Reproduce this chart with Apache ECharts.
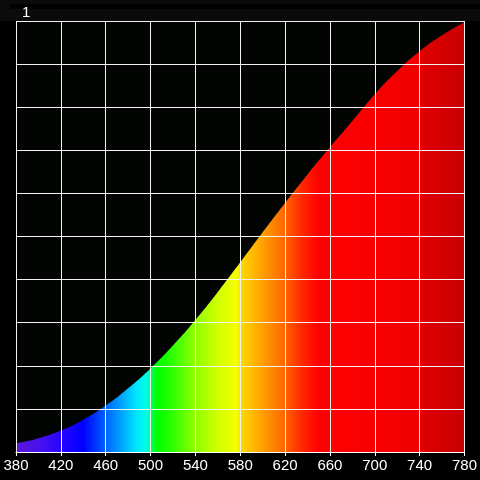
<!DOCTYPE html>
<html>
<head>
<meta charset="utf-8">
<script src="https://cdn.jsdelivr.net/npm/echarts@6/dist/echarts.min.js"></script>
<style>
html,body{margin:0;padding:0;background:#000;}
#chart{width:480px;height:480px;}
</style>
</head>
<body>
<div id="chart"></div>
<script>
// Data
var wavelengths = [380,400,420,440,460,480,500,520,540,560,580,600,620,640,660,680,700,720,740,760,780];
var intensity = [0.020,0.032,0.050,0.075,0.108,0.148,0.194,0.247,0.306,0.371,0.440,0.510,0.578,0.644,0.707,0.768,0.830,0.884,0.930,0.967,0.997];
var xTicks = [380,420,460,500,540,580,620,660,700,740,780];
var yTopLabel = '1';

// Spectrum gradient (style)
var spectrumStops = [
  [380,'#5a16dc'],[400,'#4a12ec'],[420,'#2804ff'],[440,'#0000ff'],
  [450,'#0030ff'],[460,'#0064ff'],[475,'#00a8ff'],[488,'#00e8ff'],
  [497,'#00ffe0'],[501,'#00ff50'],[506,'#00ff00'],[520,'#30ff00'],
  [540,'#90ff00'],[560,'#d0ff00'],[577,'#f4ff00'],[581,'#ffd800'],
  [600,'#ffa000'],[620,'#ff6400'],[635,'#ff2800'],[650,'#ff0000'],
  [700,'#f80000'],[738,'#f00000'],[742,'#e00000'],[780,'#c80000']
];
var minX = 380, maxX = 780;
var gradStops = spectrumStops.map(function(s){return {offset:(s[0]-minX)/(maxX-minX), color:s[1]};});

var chart = echarts.init(document.getElementById('chart'), null, {renderer:'canvas'});
var seriesData = wavelengths.map(function(w,i){return [w,intensity[i]];});

chart.setOption({
  backgroundColor:'#000000',
  animation:false,
  grid:{left:16,right:15,top:21,bottom:28,show:true,backgroundColor:'#020402',borderWidth:0},
  graphic:[
    {type:'rect',left:0,top:0,shape:{width:480,height:21},style:{fill:'#0b0b0b'},z:-10},
    {type:'rect',left:10,top:4,shape:{width:470,height:5},style:{fill:'#020202'},z:-9},
    {type:'text',left:22,top:5,style:{text:yTopLabel,fill:'#ffffff',font:'15px "Liberation Sans Narrow","Liberation Sans",sans-serif'},z:5}
  ],
  xAxis:{
    type:'value',min:minX,max:maxX,interval:40,z:10,
    axisLine:{show:true,lineStyle:{color:'#ffffff',width:1}},
    axisTick:{show:true,length:4,lineStyle:{color:'#ffffff'}},
    axisLabel:{color:'#ffffff',fontSize:15,margin:6,fontFamily:'"Liberation Sans Narrow","Liberation Sans",sans-serif',
      customValues:xTicks},
    splitLine:{show:true,lineStyle:{color:'#f2f2f2',width:1}}
  },
  yAxis:{
    type:'value',min:0,max:1,interval:0.1,z:10,
    axisLine:{show:false},axisTick:{show:false},axisLabel:{show:false},
    splitLine:{show:true,lineStyle:{color:'#f2f2f2',width:1}}
  },
  series:[{
    type:'line',data:seriesData,smooth:true,symbol:'none',z:2,
    lineStyle:{width:0,opacity:0},
    areaStyle:{opacity:1,color:{type:'linear',x:0,y:0,x2:1,y2:0,colorStops:gradStops}}
  }]
});
</script>
</body>
</html>
